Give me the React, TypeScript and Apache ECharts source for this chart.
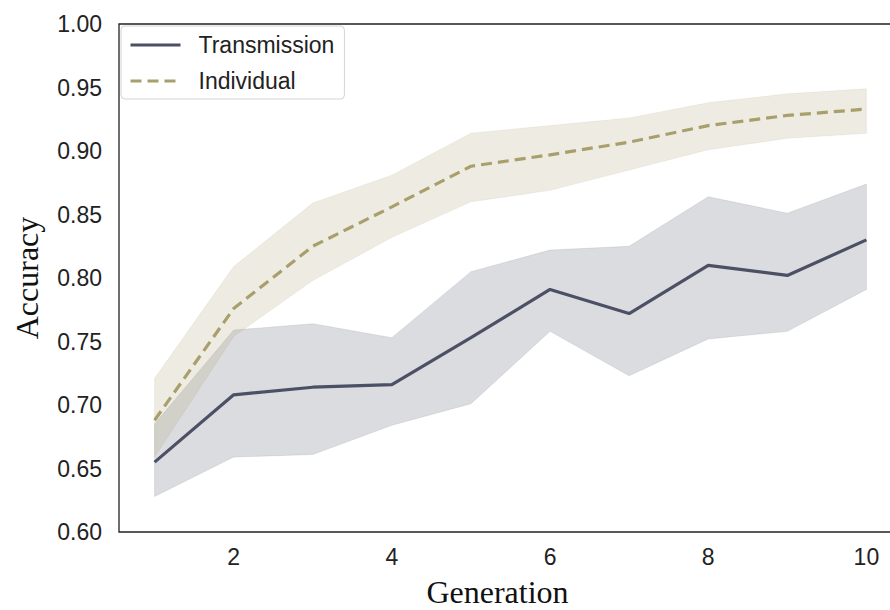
import React, { useEffect, useRef } from "react";
import * as echarts from "echarts";

const generations = [1, 2, 3, 4, 5, 6, 7, 8, 9, 10];
const transMean = [0.655, 0.708, 0.714, 0.716, 0.753, 0.791, 0.772, 0.810, 0.802, 0.830];
const transLower = [0.628, 0.659, 0.661, 0.684, 0.701, 0.758, 0.723, 0.752, 0.758, 0.791];
const transUpper = [0.685, 0.759, 0.764, 0.753, 0.805, 0.822, 0.825, 0.864, 0.851, 0.874];
const indivMean = [0.688, 0.776, 0.825, 0.856, 0.888, 0.897, 0.907, 0.920, 0.928, 0.933];
const indivLower = [0.659, 0.754, 0.798, 0.832, 0.860, 0.869, 0.885, 0.901, 0.910, 0.914];
const indivUpper = [0.721, 0.809, 0.859, 0.881, 0.914, 0.920, 0.926, 0.938, 0.945, 0.949];
const xTickValues = [2, 4, 6, 8, 10];

const TRANS_COLOR = "#4b5065";
const INDIV_COLOR = "#a89f6c";

const pairs = (ys: number[]) => generations.map((g, i) => [g, ys[i]]);
const bandRows = (lo: number[], hi: number[]) => generations.map((g, i) => [g, lo[i], hi[i]]);

function bandSeries(name: string, lo: number[], hi: number[], fill: string, edge: string) {
  const rows = bandRows(lo, hi);
  return {
    name,
    type: "custom",
    data: rows,
    silent: true,
    z: 1,
    clip: true,
    renderItem: (params: any, api: any) => {
      if (params.dataIndex !== 0) return null;
      const upper = rows.map((r) => api.coord([r[0], r[2]]));
      const lower = rows.map((r) => api.coord([r[0], r[1]])).reverse();
      return {
        type: "polygon",
        shape: { points: upper.concat(lower) },
        style: { fill, stroke: edge, lineWidth: 1 },
      };
    },
  };
}

export default function App() {
  const ref = useRef<HTMLDivElement>(null);
  useEffect(() => {
    document.body.style.margin = "0";
    const chart = echarts.init(ref.current!, null, { renderer: "svg" });
    const sans = "'Liberation Sans', Arial, sans-serif";
    const serif = "'Liberation Serif', 'Times New Roman', serif";
    chart.setOption({
      animation: false,
      backgroundColor: "#ffffff",
      grid: {
        left: 119,
        top: 24,
        bottom: 78,
        right: -12,
        outerBoundsMode: "none",
        containLabel: false,
        show: true,
        borderColor: "#222222",
        borderWidth: 1.3,
        backgroundColor: "transparent",
      },
      legend: {
        orient: "vertical",
        left: 121,
        top: 26,
        data: ["Transmission", "Individual"],
        itemWidth: 50,
        itemHeight: 14,
        itemGap: 10,
        padding: [6, 10, 5, 8],
        backgroundColor: "#ffffff",
        borderColor: "#d4d4d4",
        borderWidth: 1,
        borderRadius: 4,
        itemStyle: { opacity: 0 },
        lineStyle: { width: 3 },
        textStyle: {
          fontFamily: sans,
          fontSize: 23,
          lineHeight: 26,
          color: "#222222",
          padding: [0, 0, 0, 13],
        },
      },
      xAxis: {
        type: "value",
        min: 0.55,
        max: 10.45,
        name: "Generation",
        nameLocation: "middle",
        nameGap: 44,
        nameTextStyle: {
          fontFamily: serif,
          fontSize: 32,
          lineHeight: 32,
          color: "#111111",
          padding: [0, 26, 0, 0],
        },
        axisLine: { show: false },
        axisTick: { show: false },
        splitLine: { show: false },
        axisLabel: {
          customValues: xTickValues,
          fontFamily: sans,
          fontSize: 23,
          color: "#222222",
          margin: 13,
        },
      },
      yAxis: {
        type: "value",
        min: 0.6,
        max: 1.0,
        interval: 0.05,
        name: "Accuracy",
        nameLocation: "middle",
        nameGap: 76,
        nameTextStyle: {
          fontFamily: serif,
          fontSize: 32,
          color: "#111111",
        },
        axisLine: { show: false },
        axisTick: { show: false },
        splitLine: { show: false },
        axisLabel: {
          fontFamily: sans,
          fontSize: 23,
          color: "#222222",
          margin: 17,
          formatter: (v: number) => v.toFixed(2),
        },
      },
      series: [
        bandSeries("tBand", transLower, transUpper, "rgba(75,80,101,0.2)", "rgba(75,80,101,0.12)"),
        bandSeries("iBand", indivLower, indivUpper, "rgba(168,159,108,0.2)", "rgba(168,159,108,0.12)"),
        {
          name: "Transmission",
          type: "line",
          data: pairs(transMean),
          symbol: "none",
          showSymbol: false,
          lineStyle: { color: TRANS_COLOR, width: 3.2 },
          itemStyle: { color: TRANS_COLOR },
          z: 3,
        },
        {
          name: "Individual",
          type: "line",
          data: pairs(indivMean),
          symbol: "none",
          showSymbol: false,
          lineStyle: { color: INDIV_COLOR, width: 3.2, type: [11, 6] },
          itemStyle: { color: INDIV_COLOR },
          z: 3,
        },
      ],
    });
    return () => chart.dispose();
  }, []);
  return <div ref={ref} style={{ width: 890, height: 610 }} />;
}
